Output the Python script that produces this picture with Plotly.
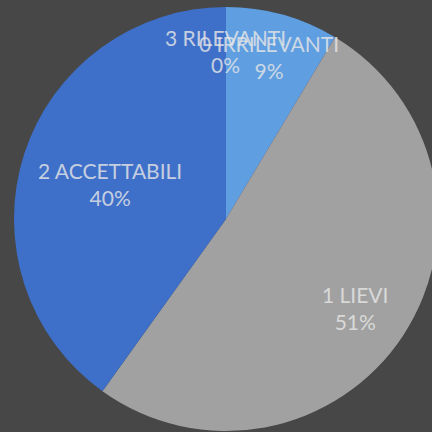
import plotly.graph_objects as go

labels = ["0 IRRILEVANTI", "1 LIEVI", "2 ACCETTABILI", "3 RILEVANTI"]
values = [8.6, 51.3, 40.1, 0.0]
colors = ["#5f9ee0", "#a1a1a1", "#3f70c9", "#4a7bd0"]

W, H = 440, 432
# label anchor positions (pixels from top-left) for the data labels
label_px = [(269, 57), (355, 308), (110, 184), (225, 51)]

total = sum(values)
cx, cy, r = 226, 219, 212
fig = go.Figure(
    go.Pie(
        labels=labels,
        values=values,
        sort=False,
        direction="clockwise",
        rotation=0,
        marker=dict(colors=colors, line=dict(width=0)),
        textinfo="none",
        hoverinfo="label+percent",
        showlegend=False,
        domain=dict(x=[(cx - r) / W, (cx + r) / W], y=[(H - cy - r) / H, (H - cy + r) / H]),
    )
)

annotations = []
for lab, v, (px, py) in zip(labels, values, label_px):
    pct = f"{round(100 * v / total):.0f}%"
    annotations.append(
        dict(
            x=px / W, y=1 - py / H, xref="paper", yref="paper",
            text=f"{lab}<br>{pct}",
            showarrow=False,
            font=dict(family="Lato, sans-serif", size=21, color="rgba(230,230,230,0.82)"),
            align="center",
            xanchor="center", yanchor="middle",
        )
    )

fig.update_layout(
    width=W, height=H,
    margin=dict(l=0, r=0, t=0, b=0),
    paper_bgcolor="#474747",
    plot_bgcolor="#474747",
    annotations=annotations,
)

fig.write_html(
    "out.html",
    config={"displayModeBar": False},
    post_script=(
        "document.body.style.margin='0';document.body.style.padding='0';"
        "document.body.style.overflow='hidden';"
        "document.documentElement.style.overflow='hidden';"
        "document.body.style.background='#474747';"
    ),
)
